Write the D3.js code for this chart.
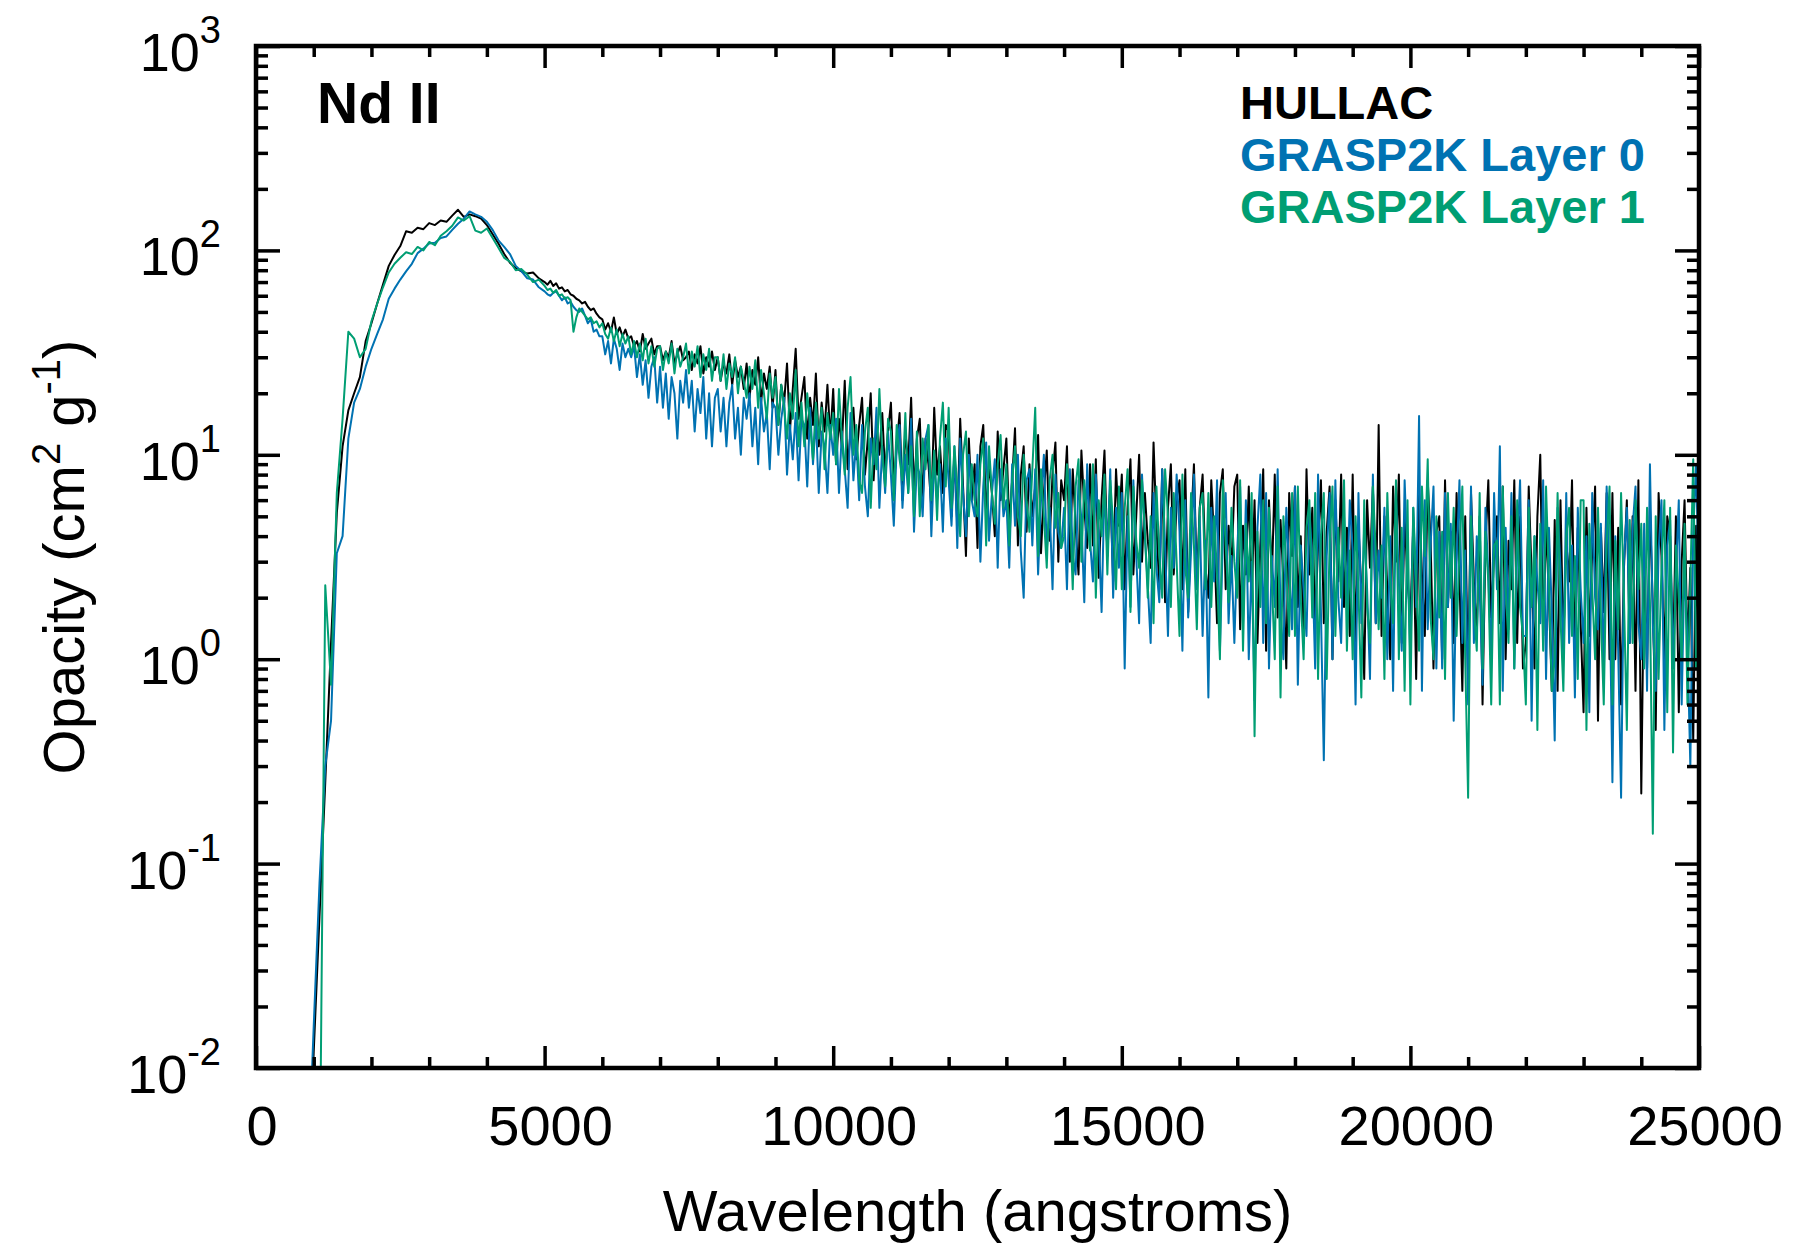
<!DOCTYPE html>
<html>
<head>
<meta charset="utf-8">
<script src="https://cdnjs.cloudflare.com/ajax/libs/d3/7.8.5/d3.min.js"></script>
<style>
  body { margin: 0; background: #fff; }
  svg text { font-family: "Liberation Sans", Arial, Helvetica, sans-serif; fill: #000; }
</style>
</head>
<body>
<div id="chart"></div>
<script>
"use strict";

// wavelength bins (angstroms): 100 A steps up to 4900, then 50 A steps
var wavelengths = [
  800, 900,
  1000, 1100, 1200, 1300, 1400, 1500, 1600, 1700, 1800, 1900,
  2000, 2100, 2200, 2300, 2400, 2500, 2600, 2700, 2800, 2900,
  3000, 3100, 3200, 3300, 3400, 3500, 3600, 3700, 3800, 3900,
  4000, 4100, 4200, 4300, 4400, 4500, 4600, 4700, 4800, 4900,
  5000, 5050, 5100, 5150, 5200, 5250, 5300, 5350, 5400, 5450,
  5500, 5550, 5600, 5650, 5700, 5750, 5800, 5850, 5900, 5950,
  6000, 6050, 6100, 6150, 6200, 6250, 6300, 6350, 6400, 6450,
  6500, 6550, 6600, 6650, 6700, 6750, 6800, 6850, 6900, 6950,
  7000, 7050, 7100, 7150, 7200, 7250, 7300, 7350, 7400, 7450,
  7500, 7550, 7600, 7650, 7700, 7750, 7800, 7850, 7900, 7950,
  8000, 8050, 8100, 8150, 8200, 8250, 8300, 8350, 8400, 8450,
  8500, 8550, 8600, 8650, 8700, 8750, 8800, 8850, 8900, 8950,
  9000, 9050, 9100, 9150, 9200, 9250, 9300, 9350, 9400, 9450,
  9500, 9550, 9600, 9650, 9700, 9750, 9800, 9850, 9900, 9950,
  10000, 10050, 10100, 10150, 10200, 10250, 10300, 10350, 10400, 10450,
  10500, 10550, 10600, 10650, 10700, 10750, 10800, 10850, 10900, 10950,
  11000, 11050, 11100, 11150, 11200, 11250, 11300, 11350, 11400, 11450,
  11500, 11550, 11600, 11650, 11700, 11750, 11800, 11850, 11900, 11950,
  12000, 12050, 12100, 12150, 12200, 12250, 12300, 12350, 12400, 12450,
  12500, 12550, 12600, 12650, 12700, 12750, 12800, 12850, 12900, 12950,
  13000, 13050, 13100, 13150, 13200, 13250, 13300, 13350, 13400, 13450,
  13500, 13550, 13600, 13650, 13700, 13750, 13800, 13850, 13900, 13950,
  14000, 14050, 14100, 14150, 14200, 14250, 14300, 14350, 14400, 14450,
  14500, 14550, 14600, 14650, 14700, 14750, 14800, 14850, 14900, 14950,
  15000, 15050, 15100, 15150, 15200, 15250, 15300, 15350, 15400, 15450,
  15500, 15550, 15600, 15650, 15700, 15750, 15800, 15850, 15900, 15950,
  16000, 16050, 16100, 16150, 16200, 16250, 16300, 16350, 16400, 16450,
  16500, 16550, 16600, 16650, 16700, 16750, 16800, 16850, 16900, 16950,
  17000, 17050, 17100, 17150, 17200, 17250, 17300, 17350, 17400, 17450,
  17500, 17550, 17600, 17650, 17700, 17750, 17800, 17850, 17900, 17950,
  18000, 18050, 18100, 18150, 18200, 18250, 18300, 18350, 18400, 18450,
  18500, 18550, 18600, 18650, 18700, 18750, 18800, 18850, 18900, 18950,
  19000, 19050, 19100, 19150, 19200, 19250, 19300, 19350, 19400, 19450,
  19500, 19550, 19600, 19650, 19700, 19750, 19800, 19850, 19900, 19950,
  20000, 20050, 20100, 20150, 20200, 20250, 20300, 20350, 20400, 20450,
  20500, 20550, 20600, 20650, 20700, 20750, 20800, 20850, 20900, 20950,
  21000, 21050, 21100, 21150, 21200, 21250, 21300, 21350, 21400, 21450,
  21500, 21550, 21600, 21650, 21700, 21750, 21800, 21850, 21900, 21950,
  22000, 22050, 22100, 22150, 22200, 22250, 22300, 22350, 22400, 22450,
  22500, 22550, 22600, 22650, 22700, 22750, 22800, 22850, 22900, 22950,
  23000, 23050, 23100, 23150, 23200, 23250, 23300, 23350, 23400, 23450,
  23500, 23550, 23600, 23650, 23700, 23750, 23800, 23850, 23900, 23950,
  24000, 24050, 24100, 24150, 24200, 24250, 24300, 24350, 24400, 24450,
  24500, 24550, 24600, 24650, 24700, 24750, 24800, 24850, 24900, 24950,
  25000
];

// opacity (cm^2 g^-1), HULLAC
var hullac = [
  0.0002, 0.002,
  0.012, 0.055, 0.25, 1.2, 5.2, 11, 16.5, 20, 24, 36,
  44, 55, 68, 84, 95, 105, 124, 122, 129, 127,
  136, 133, 140, 138, 148, 158, 146, 150, 147, 143,
  133, 120, 108, 96, 87, 82, 79, 77, 78, 73,
  70, 68, 71, 67, 69, 65, 66, 63, 64, 61,
  60, 58, 57, 55, 56, 53, 51, 52, 49, 47,
  46, 41, 44, 40, 47, 39, 42, 38, 41, 37,
  38, 34, 36, 32, 39, 33, 35, 37, 31, 34,
  34, 29, 32, 30, 36, 28, 31, 34, 29, 30,
  32, 26, 31, 28, 34, 25, 30, 27, 32, 26,
  30, 23, 28, 25, 31, 22, 29, 24, 27, 21,
  28, 19, 26, 22, 30, 18, 25, 21, 27, 17,
  26, 14, 22, 18, 28, 13, 21, 33, 15, 19,
  24, 12, 19, 14, 25, 11, 18, 13, 22, 12,
  21, 9, 15, 11, 23, 8.5, 13, 17, 9.5, 14,
  19, 8, 12, 20, 7.5, 14, 10, 16, 8, 13,
  18, 7, 11, 16, 6, 13, 9, 19, 6.5, 12,
  15, 6, 12, 9, 5.5, 17, 8, 11, 6.5, 14,
  13, 5, 10, 4.5, 15, 7, 3.2, 12, 6, 9,
  3.5, 11, 14, 5, 9, 6.5, 4, 13, 6, 8.5,
  12, 4.5, 7.5, 13.5, 3.6, 8, 11, 4.2, 9, 5,
  7, 12.5, 3.3, 6.5, 10.5, 3.8, 8, 11.5, 3, 7.5,
  6, 11, 3, 8.5, 4.5, 2.6, 10.5, 5.5, 3.5, 9,
  3.6, 9.5, 2.5, 6, 10.5, 3.2, 7, 2.4, 8.5, 4.5,
  8, 2.2, 5.5, 9.5, 2.6, 5, 10, 3, 6.5, 3.8,
  2.8, 11.5, 4.5, 2.2, 8.5, 1.9, 5.5, 9, 2.6, 6,
  7.5, 2.2, 8.5, 1.7, 4.5, 9, 2.4, 5.5, 8, 2.8,
  2, 7.5, 3.8, 1.5, 6.5, 8.5, 2.2, 4.5, 2.8, 7,
  8, 1.4, 4.5, 2.6, 7, 2, 6, 1.2, 3.6, 8.5,
  1.1, 6, 2.5, 8, 1.6, 4.8, 2.4, 0.9, 6.5, 3.2,
  7, 1.8, 4, 1.2, 8.5, 2.6, 5.5, 1.5, 3.6, 7.5,
  1.5, 4.2, 7, 1, 6, 2.4, 8, 1.8, 4.4, 1.3,
  8, 1.2, 4.5, 2.2, 0.8, 6, 2.8, 7, 1.5, 14,
  1.3, 5, 2.2, 1, 7, 3, 8, 1.2, 5, 2.4,
  1.6, 4.5, 0.8, 6.5, 2.6, 1.3, 7.5, 3.8, 0.9, 4.2,
  5, 1, 7.5, 1.8, 4.2, 1.2, 6.5, 2.5, 0.7, 5,
  0.8, 6.5, 2.4, 1.3, 5, 0.6, 3.6, 7.5, 1.6, 3.2,
  5, 1.5, 7, 1, 3.8, 2.2, 7.5, 1.2, 5, 0.9,
  1.2, 7, 2.6, 0.9, 5, 10, 1.3, 4.6, 2, 0.7,
  4.8, 0.7, 6, 1.2, 3.8, 2.4, 7.5, 1, 4.4, 1.5,
  0.55, 5.5, 1.3, 3.4, 7, 0.5, 4.4, 1.7, 6.5, 1,
  6.5, 1, 4.4, 0.6, 2.8, 6, 1.2, 5, 0.7, 7.5,
  0.22, 3.2, 0.9, 5.5, 1.8, 0.45, 6.5, 3.2, 1, 5,
  4, 1, 5, 0.55, 3, 6, 1.1, 2.8, 0.4, 4.5,
  0.28
];

// opacity, GRASP2K Layer 0
var layer0 = [
  0.0002, 0.003,
  0.016, 0.08, 0.3, 0.5, 3.3, 4, 12, 18, 21, 27,
  33, 39, 46, 58, 65, 72, 79, 86, 97, 102,
  108, 109, 115, 117, 126, 135, 143, 155, 150, 146,
  138, 126, 112, 104, 96, 84, 79, 73, 72, 66,
  63, 61, 60, 62, 63, 60, 57, 59, 55, 56,
  53, 51, 50, 52, 48, 44, 46, 40, 41, 38,
  38, 31, 36, 28, 37, 33, 26, 35, 30, 33,
  30, 34, 24, 31, 22, 29, 19, 27, 30, 18,
  27, 17, 25, 15, 24, 20, 12, 23, 18, 26,
  17, 23, 13, 21, 16, 24, 12, 20, 11, 19,
  21, 13, 19, 11, 18, 22, 12, 17, 10, 19,
  15, 20, 11, 17, 9, 19, 13, 16, 8.5, 18,
  17, 10, 15, 19, 8, 14, 9.5, 16, 7.5, 15,
  14, 7, 17, 9, 15, 6.5, 13, 11, 6.5, 14,
  10, 15, 6.5, 13, 8.5, 5.5, 16, 7.5, 12, 6,
  14, 7, 5, 12, 9, 17, 5.5, 11, 6.5, 13,
  8, 4.5, 11, 14, 5.5, 10, 6.5, 15, 4.2, 9,
  8, 5, 12, 14, 4, 9.5, 6, 9, 4.2, 12,
  7.5, 4.5, 11, 3.5, 12, 6.5, 4, 10, 6, 5,
  10, 3, 7, 11.5, 3.8, 6.5, 9.5, 2.8, 8.5, 5,
  6, 2.8, 9, 4.5, 10, 3.4, 2, 7.5, 8.5, 3.6,
  8.5, 2.6, 6, 10, 3.4, 5.5, 2.2, 8, 4.2, 3.5,
  5.5, 2.2, 8.5, 3.2, 2.6, 7.5, 4.8, 1.9, 9, 3.8,
  2.4, 8, 4.2, 1.7, 7, 3.4, 8.5, 2, 5.5, 2.8,
  6.5, 0.9, 5, 1.8, 7.5, 3.2, 1.5, 8, 4, 2.3,
  1.2, 6.5, 2.8, 1.9, 8.5, 3.6, 1.3, 5.5, 2.8, 8,
  4.2, 1.1, 6, 1.6, 3.4, 8, 2.2, 5, 1.3, 3.8,
  0.65, 5.5, 2.4, 7.5, 1.1, 3.8, 6.5, 1.5, 3.2, 1.2,
  3.4, 7, 1.5, 6, 1, 3, 0.63, 4.4, 8, 1.2,
  6.5, 0.9, 3.2, 1.8, 8.5, 1.7, 1, 5.5, 2.8, 1.4,
  7, 0.75, 3.6, 2.2, 1.3, 5.5, 3, 0.9, 8, 1.7,
  0.32, 3.2, 6.5, 1, 7.5, 2, 1.2, 5, 1.8, 6,
  3.4, 0.6, 6.5, 1.5, 4.5, 2.2, 0.8, 8, 1.5, 3.4,
  2, 5.5, 1, 4, 0.7, 6.5, 2.4, 1.1, 7.5, 3,
  1, 5.5, 1.8, 15.5, 0.7, 6, 1.4, 3.6, 7, 0.9,
  4.2, 0.9, 6.5, 1.8, 4.6, 0.5, 3, 7.5, 1.2, 3.4,
  0.6, 7, 1.2, 4, 2.2, 0.75, 5.5, 2.6, 1, 6.5,
  2.2, 11, 0.7, 4.4, 1.4, 6.5, 0.9, 3.4, 7.5, 1.3,
  1.3, 6, 0.5, 4, 2.4, 1.5, 7.5, 0.8, 4.4, 1.7,
  0.4, 5.5, 2.8, 1, 6.5, 1.2, 3.6, 0.65, 5.5, 2.2,
  1.2, 4, 0.55, 6.5, 2, 1.4, 4.6, 0.8, 7, 2.4,
  0.25, 4, 1.1, 0.21, 3, 5.5, 1.2, 4.4, 7, 1.5,
  1, 4.6, 0.7, 9, 1.5, 0.7, 3.4, 6, 0.45, 3.6,
  4.8, 0.9, 2.6, 6, 0.6, 3, 1.2, 0.3, 4.2, 9,
  2
];

// opacity, GRASP2K Layer 1
var layer1 = [
  0.0002, 0.0003,
  0.0005, 0.002, 2.3, 0.75, 6.5, 15, 40, 37, 30, 33,
  45, 55, 66, 78, 86, 92, 98, 96, 104, 100,
  110, 106, 118, 124, 132, 145, 140, 147, 125, 122,
  128, 115, 103, 92, 88, 80, 81, 76, 70, 72,
  67, 64, 65, 62, 64, 60, 61, 58, 59, 57,
  40, 47, 52, 50, 48, 46, 47, 44, 45, 42,
  44, 39, 37, 42, 36, 41, 34, 39, 35, 38,
  31, 36, 30, 35, 29, 37, 28, 34, 27, 33,
  34, 26, 32, 28, 35, 25, 33, 27, 30, 35,
  25, 32, 27, 34, 24, 31, 26, 33, 23, 30,
  30, 23, 31, 21, 28, 24, 30, 20, 27, 23,
  19, 27, 21, 29, 17, 26, 20, 15, 25, 19,
  24, 14, 22, 17, 12, 20, 15, 26, 11, 18,
  11, 20, 14, 9.5, 18, 12, 17, 8.5, 16, 12,
  16, 9, 21, 12, 8, 17, 24, 10, 14, 7.5,
  6.5, 13, 17, 5.5, 12, 8.5, 21, 10, 7, 15,
  13, 6, 14, 9.5, 7.5, 16, 6.5, 11, 5, 13,
  5, 12, 8.5, 14, 6, 10.5, 4.8, 12, 18, 7,
  17, 5.5, 11, 7, 4, 10, 13, 5, 9, 6,
  5, 9, 12, 3.6, 11, 6.5, 4.6, 9, 12.5, 5.5,
  9, 3.6, 7.5, 11, 5, 4, 10, 6, 4.2, 8.5,
  17, 3.2, 8.5, 5, 2.8, 7.5, 10, 4.4, 6.5, 3.5,
  4, 9, 5.5, 2.2, 7, 9.5, 3, 7.5, 4.8, 3.4,
  9, 2, 6, 4, 8, 2.6, 7.5, 4.6, 2.2, 7,
  2.2, 5.5, 8.5, 1.7, 7, 3.8, 2.8, 7.5, 4.2, 2,
  5, 1.5, 7, 3.2, 2, 8.5, 5, 1.8, 6.5, 3,
  1.3, 8, 2.8, 2, 6.5, 3.6, 1.4, 5.5, 6.5, 2.2,
  6.5, 1.8, 5, 2.6, 1, 7.5, 3.6, 1.9, 5.5, 3,
  2, 7.5, 1.1, 4.6, 2.4, 6.5, 0.42, 4.2, 1.8, 6,
  1.5, 5.5, 2.4, 1, 7, 0.65, 5, 2.8, 1.3, 6.5,
  1.3, 7, 2, 1, 4.4, 6, 1.6, 6.5, 0.8, 4,
  6.5, 0.8, 3.6, 7, 1.3, 4.4, 2, 7.5, 1.1, 3.4,
  1, 5, 2.2, 0.65, 6, 1.8, 1.2, 7, 3.4, 1.4,
  3.6, 0.8, 6.5, 2.4, 1.5, 7.5, 1, 4.4, 0.7, 6,
  0.6, 5.5, 2.4, 1.1, 7, 3.2, 9.5, 1.6, 1, 5,
  1.6, 4.2, 0.8, 6.5, 2, 5.5, 1.3, 3.4, 7, 1,
  0.21, 5, 1.8, 1.1, 6.5, 0.9, 4.2, 2.4, 0.6, 3.6,
  3.8, 0.6, 7, 2.2, 1.2, 5, 0.9, 6, 1.8, 1.3,
  0.6, 5.5, 1.8, 4, 0.45, 4.6, 1.1, 7, 2.4, 0.7,
  1, 6.5, 1.6, 0.7, 4, 5.5, 1.3, 3.2, 0.8, 6,
  6, 0.45, 4.6, 2.2, 1, 5.5, 1.6, 0.6, 3.6, 7,
  0.6, 3.8, 1.4, 6.5, 2, 0.45, 4.8, 1.2, 6, 2.2,
  4.6, 0.9, 5.5, 1.9, 0.14, 5, 0.8, 2.8, 6, 0.55,
  5.5, 0.35, 3.6, 2, 1, 4.6, 0.6, 2.4, 9.5, 0.9,
  0.9
];

var seriesNames = ["HULLAC", "GRASP2K Layer 0", "GRASP2K Layer 1"];
var xTicks = [0, 5000, 10000, 15000, 20000, 25000];
var yExponents = [-2, -1, 0, 1, 2, 3];
var panelLabel = "Nd II";

var colors = ["#000000", "#0072B2", "#009E73"];


function Chart(container) {
  var W = 1795, H = 1244;
  var m = {left: 256, right: 1699, top: 46, bottom: 1068};

  var svg = d3.select(container).append('svg')
    .attr('width', W)
    .attr('height', H);

  svg.append('rect').attr('width', W).attr('height', H).attr('fill', '#fff');

  var x = d3.scaleLinear().domain([0, 25000]).range([m.left, m.right]);
  var y = d3.scaleLog().domain([0.01, 1000]).range([m.bottom, m.top]);

  svg.append('clipPath').attr('id', 'plot-clip')
    .append('rect')
      .attr('x', m.left).attr('y', m.top)
      .attr('width', m.right - m.left).attr('height', m.bottom - m.top);

  // spectra
  var line = d3.line()
    .x(function(d) { return x(d.w); })
    .y(function(d) { return y(d.v); });

  [hullac, layer0, layer1].forEach(function(vals, k) {
    if (vals.length !== wavelengths.length) {
      console.error(seriesNames[k] + ': ' + vals.length + ' values for ' + wavelengths.length + ' bins');
    }
    var pts = wavelengths.map(function(w, i) { return {w: w, v: vals[i]}; });
    svg.append('path')
      .datum(pts)
      .attr('clip-path', 'url(#plot-clip)')
      .attr('fill', 'none')
      .attr('stroke', colors[k])
      .attr('stroke-width', 2)
      .attr('stroke-linejoin', 'round')
      .attr('d', line);
  });

  // ticks on all four sides, pointing inward
  var xMinor = d3.range(0, 25001, 1000).filter(function(t) { return t % 5000 !== 0; });
  var yMajor = yExponents.map(function(e) { return Math.pow(10, e); });
  var yMinor = y.ticks().filter(function(t) { return yMajor.indexOf(t) < 0; });

  function tickAxis(axis, vals, len, tx, ty) {
    var g = svg.append('g')
      .attr('transform', 'translate(' + tx + ',' + ty + ')')
      .call(axis.tickValues(vals).tickSize(-len).tickFormat(''));
    g.select('.domain').remove();
    g.selectAll('line').attr('stroke', '#000').attr('stroke-width', 3.5);
  }

  tickAxis(d3.axisBottom(x), xTicks, 22, 0, m.bottom);
  tickAxis(d3.axisBottom(x), xMinor, 11, 0, m.bottom);
  tickAxis(d3.axisTop(x), xTicks, 22, 0, m.top);
  tickAxis(d3.axisTop(x), xMinor, 11, 0, m.top);
  tickAxis(d3.axisLeft(y), yMajor, 24, m.left, 0);
  tickAxis(d3.axisLeft(y), yMinor, 12, m.left, 0);
  tickAxis(d3.axisRight(y), yMajor, 24, m.right, 0);
  tickAxis(d3.axisRight(y), yMinor, 12, m.right, 0);

  svg.append('rect')
    .attr('x', m.left).attr('y', m.top)
    .attr('width', m.right - m.left).attr('height', m.bottom - m.top)
    .attr('fill', 'none')
    .attr('stroke', '#000')
    .attr('stroke-width', 4.5);

  // tick labels
  svg.selectAll('.xlab')
    .data(xTicks)
    .enter()
      .append('text')
        .attr('x', function(d) { return x(d) + 6; })
        .attr('y', 1145)
        .attr('text-anchor', 'middle')
        .attr('font-size', 56)
        .text(function(d) { return d; });

  var ylab = svg.selectAll('.ylab')
    .data(yExponents)
    .enter()
      .append('text')
        .attr('x', 221)
        .attr('y', function(d) { return y(Math.pow(10, d)) + 25; })
        .attr('text-anchor', 'end')
        .attr('font-size', 54);
  ylab.append('tspan').text('10');
  ylab.append('tspan')
    .attr('dy', -28)
    .attr('font-size', 38)
    .text(function(d) { return d; });

  // axis titles
  svg.append('text')
    .attr('x', (m.left + m.right) / 2)
    .attr('y', 1231)
    .attr('text-anchor', 'middle')
    .attr('font-size', 58)
    .text('Wavelength (angstroms)');

  var yt = svg.append('text')
    .attr('transform', 'translate(84,' + ((m.top + m.bottom) / 2) + ') rotate(-90)')
    .attr('text-anchor', 'middle')
    .attr('font-size', 58);
  yt.append('tspan').text('Opacity (cm');
  yt.append('tspan').attr('dy', -24).attr('font-size', 40).text('2');
  yt.append('tspan').attr('dy', 24).text(' g');
  yt.append('tspan').attr('dy', -24).attr('font-size', 40).text('-1');
  yt.append('tspan').attr('dy', 24).text(')');

  // panel label and legend
  svg.append('text')
    .attr('x', 317).attr('y', 123)
    .attr('font-size', 57)
    .attr('font-weight', 'bold')
    .text(panelLabel);

  svg.selectAll('.legend')
    .data(seriesNames)
    .enter()
      .append('text')
        .attr('x', 1240)
        .attr('y', function(d, i) { return 119 + i * 52; })
        .attr('font-size', 47)
        .attr('font-weight', 'bold')
        .style('fill', function(d, i) { return colors[i]; })
        .text(function(d) { return d; });

  return svg;
}

Chart('#chart');
</script>
</body>
</html>
